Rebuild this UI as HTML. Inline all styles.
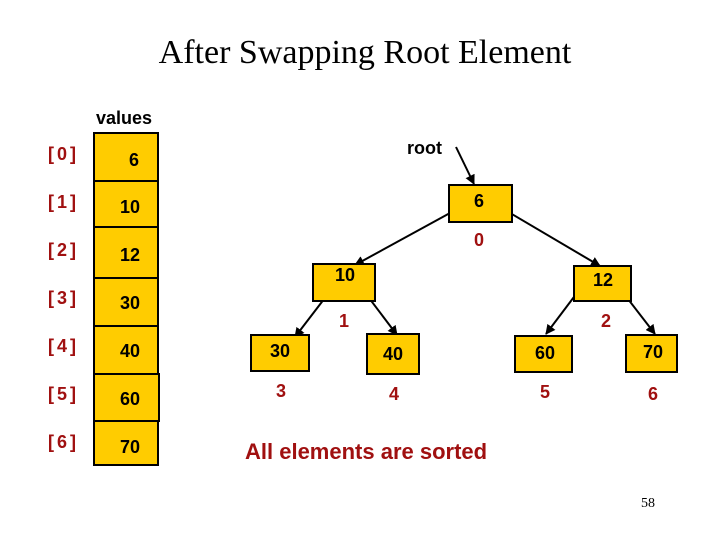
<!DOCTYPE html>
<html><head><style>
body{margin:0;width:720px;height:540px;background:#fff;position:relative;overflow:hidden;font-family:"Liberation Sans",sans-serif}
.t{position:absolute;white-space:nowrap}
.b{position:absolute;background:#fc0;border:2px solid #000;box-sizing:border-box}
.n{font-weight:bold;font-size:18px;color:#000}
.r{font-weight:bold;font-size:18px;color:#a01010}
</style></head><body>
<div class="t" style="left:0;width:730px;top:34px;text-align:center;font-family:'Liberation Serif',serif;font-size:34px">After Swapping Root Element</div>
<div class="t" style="left:96px;top:108px;font-size:18px;font-weight:bold">values</div>
<div class="b" style="left:93px;top:132px;width:66px;height:50px"></div>
<div class="b" style="left:93px;top:180px;width:66px;height:48px"></div>
<div class="b" style="left:93px;top:226px;width:66px;height:53px"></div>
<div class="b" style="left:93px;top:277px;width:66px;height:50px"></div>
<div class="b" style="left:93px;top:325px;width:66px;height:50px"></div>
<div class="b" style="left:93px;top:373px;width:67px;height:49px"></div>
<div class="b" style="left:93px;top:420px;width:66px;height:46px"></div>
<div class="t n" style="left:129px;top:150px">6</div>
<div class="t n" style="left:120px;top:197px">10</div>
<div class="t n" style="left:120px;top:245px">12</div>
<div class="t n" style="left:120px;top:293px">30</div>
<div class="t n" style="left:120px;top:341px">40</div>
<div class="t n" style="left:120px;top:389px">60</div>
<div class="t n" style="left:120px;top:437px">70</div>
<div class="t r" style="left:48px;top:144px;letter-spacing:3px">[0]</div>
<div class="t r" style="left:48px;top:192px;letter-spacing:3px">[1]</div>
<div class="t r" style="left:48px;top:240px;letter-spacing:3px">[2]</div>
<div class="t r" style="left:48px;top:288px;letter-spacing:3px">[3]</div>
<div class="t r" style="left:48px;top:336px;letter-spacing:3px">[4]</div>
<div class="t r" style="left:48px;top:384px;letter-spacing:3px">[5]</div>
<div class="t r" style="left:48px;top:432px;letter-spacing:3px">[6]</div>

<div class="t" style="left:407px;top:138px;font-size:18px;font-weight:bold">root</div>
<svg style="position:absolute;left:0;top:0" width="720" height="540">
<defs><marker id="a" markerWidth="10" markerHeight="10" refX="9" refY="5" orient="auto" markerUnits="userSpaceOnUse"><path d="M0,0 L10,5 L0,10 z" fill="#000"/></marker></defs>
<g stroke="#000" stroke-width="2" marker-end="url(#a)">
<line x1="456" y1="147" x2="474" y2="184"/>
<line x1="450" y1="213" x2="355" y2="265"/>
<line x1="505" y1="210" x2="600" y2="266"/>
<line x1="331" y1="290" x2="295" y2="337"/>
<line x1="363" y1="290" x2="397" y2="335"/>
<line x1="583" y1="285" x2="546" y2="334"/>
<line x1="621" y1="290" x2="655" y2="334"/>
</g></svg>
<div class="b" style="left:448px;top:184px;width:65px;height:39px"></div>
<div class="b" style="left:312px;top:263px;width:64px;height:39px"></div>
<div class="b" style="left:573px;top:265px;width:59px;height:37px"></div>
<div class="b" style="left:250px;top:334px;width:60px;height:38px"></div>
<div class="b" style="left:366px;top:333px;width:54px;height:42px"></div>
<div class="b" style="left:514px;top:335px;width:59px;height:38px"></div>
<div class="b" style="left:625px;top:334px;width:53px;height:39px"></div>
<div class="t n" style="left:474px;top:191px">6</div>
<div class="t n" style="left:335px;top:265px">10</div>
<div class="t n" style="left:593px;top:270px">12</div>
<div class="t n" style="left:270px;top:341px">30</div>
<div class="t n" style="left:383px;top:344px">40</div>
<div class="t n" style="left:535px;top:343px">60</div>
<div class="t n" style="left:643px;top:342px">70</div>
<div class="t r" style="left:474px;top:230px">0</div>
<div class="t r" style="left:339px;top:311px">1</div>
<div class="t r" style="left:601px;top:311px">2</div>
<div class="t r" style="left:276px;top:381px">3</div>
<div class="t r" style="left:389px;top:384px">4</div>
<div class="t r" style="left:540px;top:382px">5</div>
<div class="t r" style="left:648px;top:384px">6</div>
<div class="t" style="left:245px;top:439px;font-size:22px;font-weight:bold;color:#a01010">All elements are sorted</div>
<div class="t" style="left:641px;top:496px;font-family:'Liberation Serif',serif;font-size:14px">58</div>
</body></html>
